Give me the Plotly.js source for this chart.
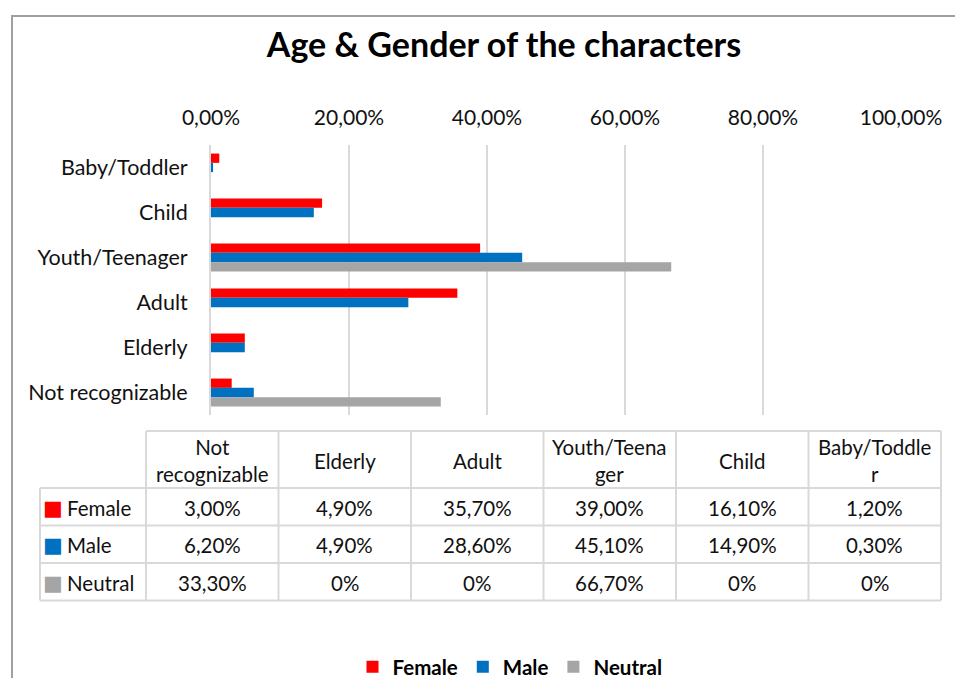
<!DOCTYPE html>
<html>
<head>
<meta charset="utf-8">
<script src="https://cdn.plot.ly/plotly-3.0.1.min.js"></script>
<style>
  html, body { margin: 0; padding: 0; background: #fff; }
  #chart { width: 955px; height: 678px; }
</style>
</head>
<body>
<div id="chart"></div>
<script>
// ---- data ----
var categories = ["Baby/Toddler", "Child", "Youth/Teenager", "Adult", "Elderly", "Not recognizable"];
var female  = [1.2, 16.1, 39.0, 35.7, 4.9, 3.0];
var male    = [0.3, 14.9, 45.1, 28.6, 4.9, 6.2];
var neutral = [0, 0, 66.7, 0, 0, 33.3];
var seriesNames = ["Female", "Male", "Neutral"];
var seriesColors = ["#FF0000", "#0070C0", "#A5A5A5"];
// data-table column headers (as wrapped in the original table, reverse category order)
var tableHeaders = ["Not<br>recognizable", "Elderly", "Adult", "Youth/Teena<br>ger", "Child", "Baby/Toddle<br>r"];
var xTickVals = [0, 20, 40, 60, 80, 100];

var FONT = "Lato, 'Open Sans', sans-serif";
var TXT = "#111111";
var GRID = "#D9D9D9";
var W = 955, H = 678;
function px(x) { return x / W; }
function py(y) { return 1 - y / H; }
function pct(v, zeroShort) {
  return (zeroShort && v === 0) ? "0%" : v.toFixed(2).replace(".", ",") + "%";
}

var seriesValues = [female, male, neutral];
var traces = seriesValues.map(function (vals, i) {
  return {
    type: "bar",
    orientation: "h",
    name: seriesNames[i],
    y: categories,
    x: vals,
    marker: { color: seriesColors[i] },
    hoverinfo: "x+y+name"
  };
});

// ---- data table (shapes for the grid, annotations for the text) ----
var tableCols = [146, 278.5, 411, 543.5, 676, 808.5, 941]; // column edges (px)
var keyLeft = 40;
var headTop = 431, rowEdges = [488, 525.5, 563, 600.5];
var shapes = [];
function hline(y, x0, x1) {
  shapes.push({ type: "line", xref: "paper", yref: "paper", x0: px(x0), x1: px(x1), y0: py(y), y1: py(y),
    line: { color: GRID, width: 2 }, layer: "above" });
}
function vline(x, y0, y1) {
  shapes.push({ type: "line", xref: "paper", yref: "paper", x0: px(x), x1: px(x), y0: py(y0), y1: py(y1),
    line: { color: GRID, width: 2 }, layer: "above" });
}
hline(headTop, tableCols[0], tableCols[6]);
rowEdges.forEach(function (y) { hline(y, keyLeft, tableCols[6]); });
vline(keyLeft, rowEdges[0], rowEdges[3]);
tableCols.forEach(function (x) { vline(x, headTop, rowEdges[3]); });

var annotations = [];
var tableOrder = categories.slice().reverse();
tableOrder.forEach(function (cat, c) {
  var cx = (tableCols[c] + tableCols[c + 1]) / 2;
  annotations.push({
    xref: "paper", yref: "paper", x: px(cx), y: py((headTop + rowEdges[0]) / 2 + 1),
    xanchor: "center", yanchor: "middle", align: "center", showarrow: false,
    text: tableHeaders[c], font: { family: FONT, size: 20.5, color: TXT }
  });
  var idx = categories.indexOf(cat);
  seriesValues.forEach(function (vals, r) {
    annotations.push({
      xref: "paper", yref: "paper", x: px(cx), y: py((rowEdges[r] + rowEdges[r + 1]) / 2 + 1),
      xanchor: "center", yanchor: "middle", showarrow: false,
      text: pct(vals[idx], true), font: { family: FONT, size: 20.5, color: TXT }
    });
  });
});
// legend-key column of the table: colour key + series name
seriesNames.forEach(function (n, r) {
  var yc = (rowEdges[r] + rowEdges[r + 1]) / 2;
  annotations.push({
    xref: "paper", yref: "paper", x: px(52.5), y: py(yc + 1),
    xanchor: "center", yanchor: "middle", showarrow: false,
    text: "■", font: { family: "DejaVu Sans", size: 21, color: seriesColors[r] }
  });
  annotations.push({
    xref: "paper", yref: "paper", x: px(65), y: py(yc + 1),
    xanchor: "left", yanchor: "middle", showarrow: false,
    text: n, font: { family: FONT, size: 20.5, color: TXT }
  });
});

// outer chart-area border (cut by the picture edges)
shapes.push({ type: "line", xref: "paper", yref: "paper", x0: px(12), x1: px(12), y0: py(16), y1: -0.1,
  line: { color: "#A0A0A0", width: 2 } });
shapes.push({ type: "line", xref: "paper", yref: "paper", x0: px(11), x1: 1.1, y0: py(16), y1: py(16),
  line: { color: "#A0A0A0", width: 2 } });

var layout = {
  width: W, height: H,
  margin: { l: 0, r: 0, t: 0, b: 0, pad: 0, autoexpand: false },
  paper_bgcolor: "white",
  plot_bgcolor: "white",
  separators: ",.",
  title: {
    text: "<b>Age & Gender of the characters</b>",
    font: { family: FONT, size: 34, color: "#000" },
    x: px(504), xanchor: "center",
    y: py(45), yanchor: "middle"
  },
  barmode: "group",
  bargap: 0.38,
  bargroupgap: 0,
  xaxis: {
    domain: [px(211), px(901)],
    range: [0, 100],
    side: "top",
    tickvals: xTickVals,
    ticktext: xTickVals.map(function (v) { return pct(v, false); }),
    showgrid: true,
    gridcolor: GRID,
    gridwidth: 2,
    zeroline: false,
    showline: false,
    ticks: "",
    ticklabelstandoff: 15,
    tickfont: { family: FONT, size: 21, color: TXT },
    fixedrange: true
  },
  yaxis: {
    domain: [py(415), py(145)],
    autorange: "reversed",
    type: "category",
    showgrid: false,
    zeroline: false,
    showline: true,
    linecolor: GRID,
    linewidth: 2,
    ticks: "",
    ticklabelstandoff: 17,
    tickfont: { family: FONT, size: 21.5, color: TXT },
    fixedrange: true
  },
  showlegend: true,
  legend: {
    orientation: "h",
    x: px(510), xanchor: "center",
    y: py(667), yanchor: "middle",
    font: { family: FONT, size: 20.5, color: "#000", weight: "bold" },
    itemwidth: 30,
    traceorder: "normal"
  },
  shapes: shapes,
  annotations: annotations
};

Plotly.newPlot("chart", traces, layout, { displayModeBar: false, staticPlot: true });
</script>
</body>
</html>
